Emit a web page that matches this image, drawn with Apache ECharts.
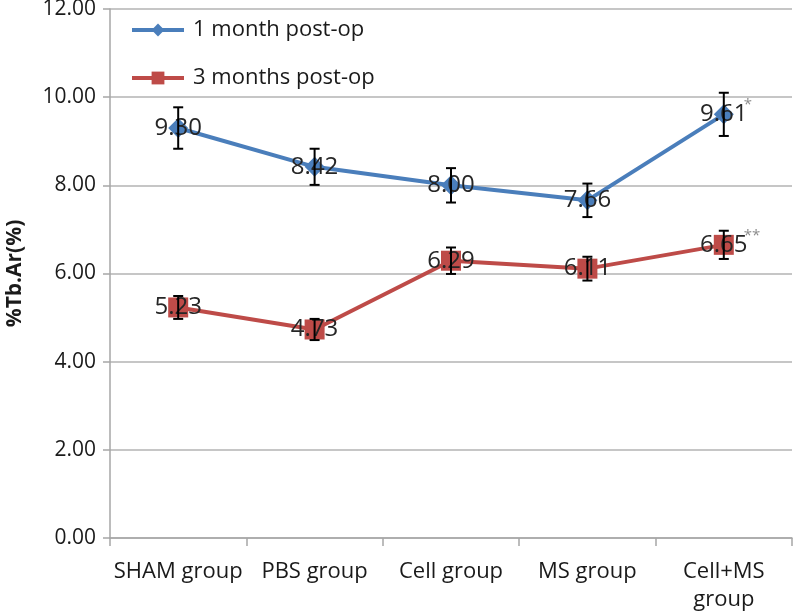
<!DOCTYPE html>
<html>
<head>
<meta charset="utf-8">
<script src="https://cdn.jsdelivr.net/npm/echarts@6/dist/echarts.min.js"></script>
<style>
html,body{margin:0;padding:0;background:#fff;}
#chart{width:793px;height:612px;}
</style>
</head>
<body>
<div id="chart"></div>
<script>
var categories = ['SHAM group', 'PBS group', 'Cell group', 'MS group', 'Cell+MS group'];
var seriesNames = ['1 month post-op', '3 months post-op'];
var oneMonth = [9.30, 8.42, 8.00, 7.66, 9.61];
var oneMonthErr = [0.47, 0.41, 0.39, 0.38, 0.49];
var oneMonthNotes = ['', '', '', '', '*'];
var threeMonths = [5.23, 4.73, 6.29, 6.11, 6.65];
var threeMonthsErr = [0.26, 0.24, 0.30, 0.27, 0.32];
var threeMonthsNotes = ['', '', '', '', '**'];
var yTicks = {min: 0, max: 12, interval: 2};
var yTitle = '%Tb.Ar(%)';

var FONT = '"Open Sans", "Noto Sans", sans-serif';

function errorSeries(values, errs, notes, name) {
  var data = values.map(function (v, i) { return [i, v, errs[i], notes[i]]; });
  return {
    type: 'custom',
    name: name + ' err',
    z: 4,
    silent: true,
    data: data,
    renderItem: function (params, api) {
      var x = api.value(0), y = api.value(1), e = api.value(2);
      var note = data[params.dataIndex][3];
      var top = api.coord([x, y + e]);
      var bot = api.coord([x, y - e]);
      var c = api.coord([x, y]);
      var hw = 5;
      var st = {stroke: '#000', lineWidth: 2};
      var children = [
        {type: 'line', shape: {x1: top[0], y1: top[1], x2: bot[0], y2: bot[1]}, style: st},
        {type: 'line', shape: {x1: top[0] - hw, y1: top[1], x2: top[0] + hw, y2: top[1]}, style: st},
        {type: 'line', shape: {x1: bot[0] - hw, y1: bot[1], x2: bot[0] + hw, y2: bot[1]}, style: st}
      ];
      if (note) {
        children.push({type: 'text', x: c[0] + 20, y: c[1] - 17,
          style: {text: note, fill: '#8c8c8c', font: '15px ' + FONT, textAlign: 'left', textVerticalAlign: 'top'}});
      }
      return {type: 'group', children: children};
    }
  };
}

var chart = echarts.init(document.getElementById('chart'), null, {renderer: 'canvas'});
chart.setOption({
  animation: false,
  backgroundColor: '#fff',
  grid: {left: 110, right: 1, top: 9, bottom: 74, containLabel: false, outerBoundsMode: 'none'},
  legend: {
    orient: 'vertical',
    left: 130,
    top: 19,
    padding: 0,
    itemWidth: 52,
    itemHeight: 16,
    itemGap: 26,
    data: seriesNames,
    lineStyle: {width: 4},
    textStyle: {fontFamily: FONT, fontSize: 22, color: '#1a1a1a', padding: [0, 0, 0, 4]}
  },
  xAxis: {
    type: 'category',
    data: categories,
    boundaryGap: true,
    axisLine: {lineStyle: {color: '#a6a6a6', width: 1.5}},
    axisTick: {show: true, length: 8, lineStyle: {color: '#a6a6a6', width: 1.5}},
    axisLabel: {
      fontFamily: FONT, fontSize: 22, color: '#1a1a1a', margin: 20, lineHeight: 28,
      interval: 0,
      formatter: function (v) { return v === 'Cell+MS group' ? 'Cell+MS\ngroup' : v; }
    }
  },
  yAxis: {
    type: 'value',
    min: yTicks.min, max: yTicks.max, interval: yTicks.interval,
    name: yTitle,
    nameLocation: 'middle',
    nameGap: 84,
    nameRotate: 90,
    nameTextStyle: {fontFamily: FONT, fontSize: 21, fontWeight: 'bold', color: '#1a1a1a'},
    axisLine: {show: true, lineStyle: {color: '#a6a6a6', width: 1.5}},
    axisTick: {show: true, length: 7, lineStyle: {color: '#a6a6a6', width: 1.5}},
    splitLine: {show: true, lineStyle: {color: '#b3b3b3', width: 1.5}},
    axisLabel: {
      fontFamily: FONT, fontSize: 21, color: '#1a1a1a', margin: 14,
      formatter: function (v) { return v.toFixed(2); }
    }
  },
  series: [
    {
      name: seriesNames[0], type: 'line', data: oneMonth, z: 3,
      symbol: 'diamond', symbolSize: 20,
      itemStyle: {color: '#4a7ebb'},
      lineStyle: {color: '#4a7ebb', width: 4},
      label: {show: true, position: 'inside', fontFamily: FONT, fontSize: 24, color: '#262626',
        formatter: function (p) { return p.value.toFixed(2); }}
    },
    {
      name: seriesNames[1], type: 'line', data: threeMonths, z: 3,
      symbol: 'rect', symbolSize: 20,
      itemStyle: {color: '#be4b48'},
      lineStyle: {color: '#be4b48', width: 4},
      label: {show: true, position: 'inside', fontFamily: FONT, fontSize: 24, color: '#262626',
        formatter: function (p) { return p.value.toFixed(2); }}
    },
    errorSeries(oneMonth, oneMonthErr, oneMonthNotes, seriesNames[0]),
    errorSeries(threeMonths, threeMonthsErr, threeMonthsNotes, seriesNames[1])
  ]
});
</script>
</body>
</html>
